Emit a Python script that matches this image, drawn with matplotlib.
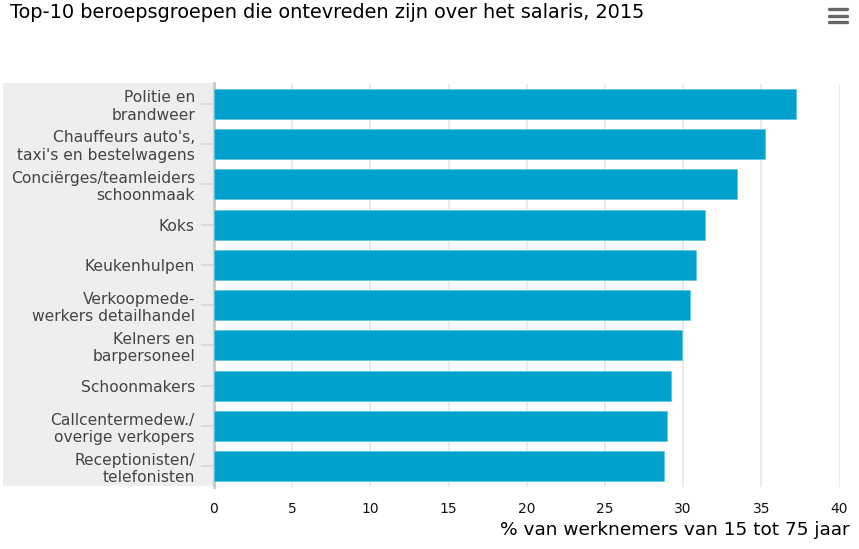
import matplotlib
matplotlib.use('Agg')
import matplotlib.pyplot as plt
from matplotlib.lines import Line2D
from matplotlib.patches import Rectangle

W, H = 859, 549

categories = ["Politie en\nbrandweer", "Chauffeurs auto's,\ntaxi's en bestelwagens",
              "Conciërges/teamleiders\nschoonmaak", "Koks", "Keukenhulpen",
              "Verkoopmede-\nwerkers detailhandel", "Kelners en\nbarpersoneel",
              "Schoonmakers", "Callcentermedew./\noverige verkopers",
              "Receptionisten/\ntelefonisten"]
values = [37.25, 35.25, 33.45, 31.4, 30.85, 30.45, 29.95, 29.25, 29.0, 28.75]
xticks = [0, 5, 10, 15, 20, 25, 30, 35, 40]

plt.rcParams['font.family'] = ['DejaVu Sans']

fig = plt.figure(figsize=(W/100, H/100), dpi=100)
ax = fig.add_axes([214/W, 1-486.5/H, (839.5-214)/W, (486.5-83.5)/H])

# grey band behind the category labels
fig.add_artist(Rectangle((3/W, 1-486/H), 211/W, 403/H, transform=fig.transFigure,
                         facecolor='#eeeeee', edgecolor='none', zorder=-1))

pos = list(range(len(categories)))
ax.barh(pos, values, height=0.745, color='#00a1cd', edgecolor='#66c6e1', linewidth=0.6, zorder=3)
ax.set_ylim(9.5, -0.5)
ax.set_xlim(0, 40)
ax.patch.set_alpha(0)

ax.set_xticks(xticks)
ax.grid(True, axis='x', color='#e6e6e6', linewidth=1.2, zorder=0)
ax.tick_params(axis='x', length=0, pad=11.5, labelsize=10, labelcolor='#111111')

ax.set_yticks(pos)
ax.set_yticklabels(categories, fontsize=11.2, color='#444444', linespacing=1.2, ha='right')
ax.tick_params(axis='y', length=9.4, width=1.2, color='#d8d8d8', pad=4.3)

for s in ['top', 'right', 'bottom']:
    ax.spines[s].set_visible(False)
ax.spines['left'].set_color('#c8c8c8')
ax.spines['left'].set_linewidth(2)

fig.text(10/W, 1-12/H, "Top-10 beroepsgroepen die ontevreden zijn over het salaris, 2015",
         fontsize=13.9, color='black', va='center', ha='left')
fig.text(850/W, 1-530/H, "% van werknemers van 15 tot 75 jaar",
         fontsize=13.3, color='black', va='center', ha='right')

# menu icon
for y in [9, 16, 22]:
    fig.add_artist(Line2D([829/W, 847/W], [1-y/H, 1-y/H], transform=fig.transFigure,
                          color='#666666', linewidth=2.4, solid_capstyle='round'))

fig.savefig('out.png', dpi=100)
